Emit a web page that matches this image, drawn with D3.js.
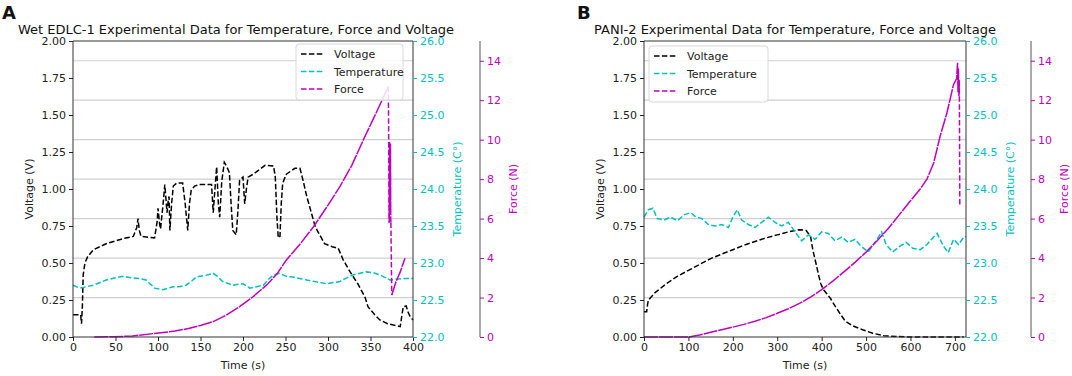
<!DOCTYPE html>
<html>
<head>
<meta charset="utf-8">
<script src="https://d3js.org/d3.v7.min.js"></script>
<style>
body { margin: 0; background: #fff; }
text { font-family: "DejaVu Sans", sans-serif; }
</style>
</head>
<body>
<script>
var width = 1072, height = 376;

// tick values shared by both panels
var voltTicks = [0, 0.25, 0.5, 0.75, 1, 1.25, 1.5, 1.75, 2];
var tempTicks = [22, 22.5, 23, 23.5, 24, 24.5, 25, 25.5, 26];
var forceTicks = [0, 2, 4, 6, 8, 10, 12, 14];
var timeTicksA = [0, 50, 100, 150, 200, 250, 300, 350, 400];
var timeTicksB = [0, 100, 200, 300, 400, 500, 600, 700];

// panel A : Wet EDLC-1  [time (s), value]
var voltageA = [[0,0.15],[9,0.15],[10,0.09],[11,0.2],[12,0.42],[14,0.5],[17,0.54],[24,0.59],[39,0.63],[59,0.665],[71,0.68],[75,0.74],[76.5,0.8],[78,0.72],[80,0.68],[96,0.67],[99,0.78],[100,0.87],[102,0.76],[103,0.73],[106,0.9],[108,1.03],[110.6,0.84],[112,0.92],[113,0.95],[114,0.72],[116,0.9],[118,1.02],[122,1.04],[129,1.04],[132,0.9],[135,0.72],[137,0.9],[139,0.99],[143,1.02],[149,1.03],[163,1.03],[165,0.84],[167,1.0],[169,1.15],[171,0.9],[172.6,0.81],[175,1.05],[178,1.18],[181,1.15],[184,1.11],[186,0.9],[188,0.72],[192,0.69],[194,0.85],[196,1.06],[200,1.08],[202,0.9],[204,1.0],[206,1.08],[212,1.1],[226,1.16],[236,1.155],[238,1.08],[240,0.8],[241.5,0.67],[243.5,0.68],[245,0.9],[246.7,1.04],[251,1.1],[261,1.14],[267,1.14],[271,1.05],[275,0.95],[285,0.745],[296,0.63],[305,0.61],[312,0.6],[318,0.52],[326,0.44],[335,0.36],[343.5,0.27],[347,0.205],[355,0.15],[361,0.115],[370,0.09],[385,0.07],[387,0.15],[388.6,0.205],[392,0.21],[394,0.17],[396.5,0.14],[400,0.115]];
var tempA = [[0,22.7],[8,22.66],[16,22.68],[24,22.7],[39,22.77],[50,22.8],[59,22.82],[68,22.8],[78,22.79],[86,22.77],[96,22.66],[106,22.64],[112,22.66],[118,22.68],[125,22.68],[133,22.7],[140,22.76],[145,22.81],[155,22.83],[165,22.86],[170,22.82],[176,22.75],[188,22.7],[200,22.72],[208,22.66],[216,22.68],[224,22.7],[230,22.78],[236,22.84],[243,22.86],[251,22.82],[259,22.81],[275,22.77],[298,22.72],[314,22.75],[322,22.8],[330,22.84],[345,22.88],[353,22.87],[361,22.84],[373,22.77],[380,22.78],[388,22.79],[400,22.79]];
var forceA = [[25,0],[47,0.01],[70,0.05],[98,0.19],[120,0.3],[137,0.44],[150,0.58],[165,0.78],[180,1.1],[196,1.54],[212,2.05],[228,2.64],[240,3.2],[251,3.9],[267,4.7],[283,5.59],[298,6.55],[314,7.62],[328,8.7],[341.5,9.98],[356,11.3],[371,12.69],[372,5.8],[372.3,9.9],[372.6,6.5],[372.9,9.6],[373.2,6.2],[373.5,9.8],[373.8,6.0],[374,5.8],[375,2.13],[380,2.8],[385,3.3],[390.6,3.99]];

// panel B : PANI-2
var voltageB = [[0,0.17],[6,0.17],[8,0.22],[10,0.25],[25,0.3],[50,0.36],[75,0.41],[100,0.45],[125,0.49],[150,0.53],[175,0.56],[200,0.59],[225,0.62],[250,0.645],[275,0.67],[300,0.69],[325,0.71],[350,0.725],[365,0.72],[375,0.68],[380,0.59],[387,0.5],[393,0.42],[398,0.36],[404,0.32],[412,0.29],[420,0.26],[430,0.21],[442,0.155],[453,0.108],[470,0.075],[494,0.047],[515,0.025],[540,0.009],[570,0.003],[600,0],[650,0],[720,0]];
var tempB = [[0,23.62],[10,23.72],[20,23.74],[30,23.6],[45,23.58],[60,23.62],[75,23.57],[90,23.65],[105,23.68],[115,23.63],[130,23.6],[145,23.52],[160,23.5],[175,23.52],[190,23.48],[200,23.62],[210,23.72],[220,23.58],[235,23.52],[250,23.48],[265,23.55],[280,23.62],[295,23.55],[310,23.5],[325,23.55],[340,23.42],[355,23.3],[370,23.38],[385,23.32],[400,23.42],[415,23.4],[430,23.3],[445,23.35],[460,23.28],[475,23.32],[490,23.22],[505,23.15],[520,23.28],[535,23.42],[545,23.25],[560,23.15],[575,23.22],[590,23.28],[605,23.2],[622,23.18],[637,23.25],[652,23.35],[660,23.4],[674,23.23],[685,23.14],[697,23.32],[708,23.25],[719,23.34],[725,23.36]];
var forceB = [[0,0],[100,0],[125,0.1],[150,0.24],[175,0.37],[200,0.5],[225,0.64],[250,0.8],[275,0.98],[300,1.2],[325,1.43],[350,1.7],[375,2.02],[400,2.4],[425,2.83],[450,3.3],[475,3.78],[500,4.3],[525,4.88],[550,5.5],[575,6.2],[600,6.9],[622,7.5],[637,8.0],[652,8.8],[667,10.2],[682,11.35],[697,12.8],[704,13.1],[706,13.9],[707,12.4],[708,13.6],[709,12.2],[710,13.0],[711,6.7]];

var cVolt = '#000000', cTemp = '#00bfbf', cForce = '#bf00bf';
var dash = '5.5,2.4';

var svg = d3.select('body').append('svg').attr('width', width).attr('height', height);

function drawPanel(cfg) {
  var g = svg.append('g');
  var top = 41, bottom = 337;
  var x = d3.scaleLinear().domain([0, cfg.xMax]).range([cfg.left, cfg.right]);
  var yV = d3.scaleLinear().domain([0, 2]).range([bottom, top]);
  var yT = d3.scaleLinear().domain([22, 26]).range([bottom, top]);
  var yF = d3.scaleLinear().domain([0, 15]).range([bottom, top]);

  // grid comes from the force axis
  g.selectAll('.grid').data(forceTicks.filter(function(d){ return d > 0; })).join('line')
    .attr('x1', cfg.left).attr('x2', cfg.right)
    .attr('y1', function(d){ return yF(d); }).attr('y2', function(d){ return yF(d); })
    .attr('stroke', '#d0d0d0').attr('stroke-width', 1.2);

  var lineV = d3.line().x(function(d){ return x(d[0]); }).y(function(d){ return yV(d[1]); });
  var lineT = d3.line().x(function(d){ return x(d[0]); }).y(function(d){ return yT(d[1]); });
  var lineF = d3.line().x(function(d){ return x(d[0]); }).y(function(d){ return yF(d[1]); });

  g.append('path').attr('d', lineV(cfg.volt)).attr('fill', 'none')
    .attr('stroke', cVolt).attr('stroke-width', 1.5).attr('stroke-dasharray', dash);
  g.append('path').attr('d', lineT(cfg.temp)).attr('fill', 'none')
    .attr('stroke', cTemp).attr('stroke-width', 1.5).attr('stroke-dasharray', dash);

  // force: the noisy climb looks solid, the fast drops show the dashes
  var runs = [], cur = [cfg.force[0]], steep = null;
  for (var i = 1; i < cfg.force.length; i++) {
    var a = cfg.force[i-1], b = cfg.force[i];
    var s = (b[0] - a[0]) >= 0.9 && Math.abs(b[1] - a[1]) / (b[0] - a[0]) > 2.5;
    if (steep === null || s === steep) { cur.push(b); steep = s; }
    else { runs.push({pts: cur, steep: steep}); cur = [a, b]; steep = s; }
  }
  runs.push({pts: cur, steep: steep});
  runs.forEach(function(r) {
    g.append('path').attr('d', lineF(r.pts)).attr('fill', 'none')
      .attr('stroke', cForce).attr('stroke-width', 1.5)
      .attr('stroke-dasharray', r.steep ? dash : '14,1');
  });

  // spines
  var sp = g.append('g').attr('stroke', '#333').attr('stroke-width', 1);
  sp.append('line').attr('x1', cfg.left).attr('x2', cfg.right).attr('y1', top).attr('y2', top);
  sp.append('line').attr('x1', cfg.left).attr('x2', cfg.right).attr('y1', bottom).attr('y2', bottom);
  sp.append('line').attr('x1', cfg.left).attr('x2', cfg.left).attr('y1', top).attr('y2', bottom);
  sp.append('line').attr('x1', cfg.right).attr('x2', cfg.right).attr('y1', top).attr('y2', bottom);
  sp.append('line').attr('x1', cfg.forceX).attr('x2', cfg.forceX).attr('y1', top).attr('y2', bottom).attr('stroke', '#555');

  function styleAxis(sel, col) {
    sel.select('.domain').remove();
    sel.selectAll('line').attr('stroke', col).attr('stroke-width', 1);
    sel.selectAll('text').attr('fill', col).style('font-size', '11px');
  }

  g.append('g').attr('transform', 'translate(0,' + bottom + ')')
    .call(d3.axisBottom(x).tickValues(cfg.xTicks).tickSize(4).tickPadding(2))
    .call(styleAxis, '#222');
  g.append('g').attr('transform', 'translate(' + cfg.left + ',0)')
    .call(d3.axisLeft(yV).tickValues(voltTicks).tickFormat(d3.format('.2f')).tickSize(4).tickPadding(3))
    .call(styleAxis, '#222');
  g.append('g').attr('transform', 'translate(' + cfg.right + ',0)')
    .call(d3.axisRight(yT).tickValues(tempTicks).tickFormat(d3.format('.1f')).tickSize(4).tickPadding(3))
    .call(styleAxis, cTemp);
  g.append('g').attr('transform', 'translate(' + cfg.forceX + ',0)')
    .call(d3.axisRight(yF).tickValues(forceTicks).tickSize(4).tickPadding(3))
    .call(styleAxis, cForce);

  // labels
  var midY = (top + bottom) / 2;
  g.append('text').attr('x', (cfg.left + cfg.right) / 2).attr('y', 369).attr('text-anchor', 'middle')
    .style('font-size', '11px').attr('fill', '#222').text('Time (s)');
  g.append('text').attr('transform', 'translate(' + (cfg.left - 40) + ',' + midY + ') rotate(-90)')
    .attr('text-anchor', 'middle').style('font-size', '11px').attr('fill', '#222').text('Voltage (V)');
  g.append('text').attr('transform', 'translate(' + (cfg.right + 48) + ',' + midY + ') rotate(-90)')
    .attr('text-anchor', 'middle').style('font-size', '11px').attr('fill', cTemp).text('Temperature (C°)');
  g.append('text').attr('transform', 'translate(' + (cfg.forceX + 37) + ',' + midY + ') rotate(-90)')
    .attr('text-anchor', 'middle').style('font-size', '11px').attr('fill', cForce).text('Force (N)');
  g.append('text').attr('x', cfg.titleX).attr('y', 34).attr('text-anchor', 'middle')
    .style('font-size', '13px').attr('fill', '#111').text(cfg.title);
  g.append('text').attr('x', cfg.letterX).attr('y', 19).style('font-size', '18px')
    .style('font-weight', 'bold').attr('fill', '#111').text(cfg.letter);

  // legend
  var items = [{name: 'Voltage', c: cVolt}, {name: 'Temperature', c: cTemp}, {name: 'Force', c: cForce}];
  var lg = g.append('g').attr('transform', 'translate(' + cfg.legX + ',' + cfg.legY + ')');
  lg.append('rect').attr('width', cfg.legW).attr('height', 56).attr('rx', 3)
    .attr('fill', '#fff').attr('fill-opacity', 0.85).attr('stroke', '#d8d8d8');
  lg.selectAll('g.it').data(items).join('g').attr('class', 'it')
    .attr('transform', function(d, i){ return 'translate(0,' + (10 + i * 17.5) + ')'; })
    .each(function(d) {
      var it = d3.select(this);
      it.append('line').attr('x1', 5).attr('x2', 28).attr('stroke', d.c)
        .attr('stroke-width', 1.5).attr('stroke-dasharray', dash);
      it.append('text').attr('x', 38).attr('y', 4).style('font-size', '11px').attr('fill', '#222').text(d.name);
    });
}

drawPanel({
  left: 73, right: 413, forceX: 480, xMax: 400, xTicks: timeTicksA,
  volt: voltageA, temp: tempA, force: forceA,
  title: 'Wet EDLC-1 Experimental Data for Temperature, Force and Voltage', titleX: 236,
  letter: 'A', letterX: 2, legX: 296, legY: 44, legW: 107
});
drawPanel({
  left: 644, right: 966, forceX: 1031, xMax: 725, xTicks: timeTicksB,
  volt: voltageB, temp: tempB, force: forceB,
  title: 'PANI-2 Experimental Data for Temperature, Force and Voltage', titleX: 795,
  letter: 'B', letterX: 577, legX: 649, legY: 46, legW: 119
});
</script>
</body>
</html>
